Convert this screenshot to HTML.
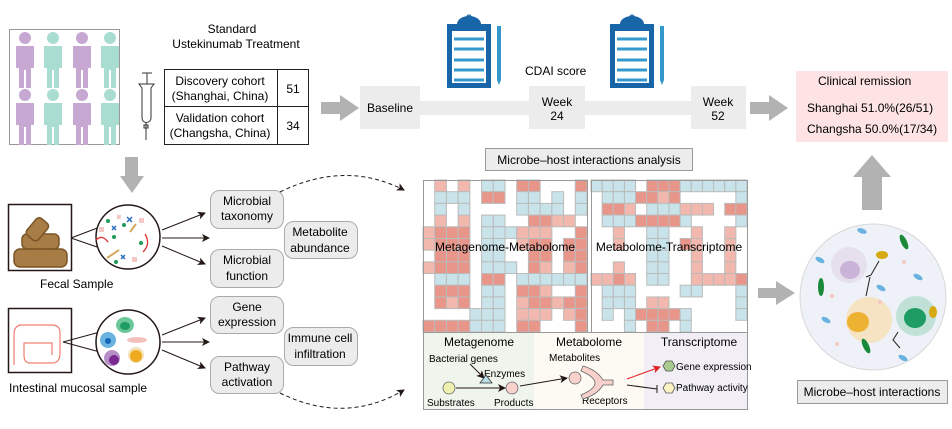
<!DOCTYPE html>
<html><head><meta charset="utf-8"><style>
body{margin:0;background:#fff;}
svg{display:block;font-family:"Liberation Sans",Arial,sans-serif;}
</style></head><body>
<svg id="s" width="952" height="429" viewBox="0 0 952 429" xmlns="http://www.w3.org/2000/svg">
<defs>
<marker id="ah" markerWidth="8" markerHeight="8" refX="7" refY="4" orient="auto" markerUnits="userSpaceOnUse"><path d="M0,0 L8,4 L0,8 L2,4z" fill="#231815"/></marker>
<marker id="ahr" markerWidth="8" markerHeight="8" refX="7" refY="4" orient="auto" markerUnits="userSpaceOnUse"><path d="M0,0 L8,4 L0,8 L2,4z" fill="#e02020"/></marker>
<g id="pp"><circle cx="0" cy="0" r="6"/><path d="M-9,8 h18 v22 h-3 v20 h-5 v-18 h-2 v18 h-5 v-20 h-3z"/></g>
<g id="clip"><rect x="0" y="8" width="44" height="64" fill="#1865a8"/><rect x="5" y="15" width="34" height="52" fill="#fff"/><path d="M10,8 a12,8 0 0 1 24,0z" fill="#1865a8"/><circle cx="22" cy="1" r="2" fill="none" stroke="#1865a8" stroke-width="1.3"/><g stroke="#3399cc" stroke-width="3"><line x1="7" y1="23" x2="37" y2="23"/><line x1="7" y1="33" x2="37" y2="33"/><line x1="7" y1="44" x2="37" y2="44"/><line x1="7" y1="54" x2="37" y2="54"/><line x1="7" y1="64" x2="37" y2="64"/></g><path d="M50,10 h4 v54 l-2,5 l-2,-5z" fill="#3399cc"/></g>
</defs>

<!-- people -->
<rect x="9.5" y="29.5" width="110" height="115" fill="#fff" stroke="#999"/>
<g fill="#c6a8d2"><use href="#pp" x="25" y="38"/><use href="#pp" x="82" y="38"/><use href="#pp" x="25" y="95"/><use href="#pp" x="82" y="95"/></g>
<g fill="#a9ddd1"><use href="#pp" x="53" y="38"/><use href="#pp" x="110" y="38"/><use href="#pp" x="53" y="95"/><use href="#pp" x="110" y="95"/></g>
<text x="232" y="33" font-size="12" text-anchor="middle">Standard</text>
<text x="236" y="48" font-size="12" text-anchor="middle">Ustekinumab Treatment</text>
<!-- syringe -->
<g stroke="#333" fill="none" stroke-width="1"><line x1="142" y1="73" x2="152" y2="73"/><line x1="147" y1="73" x2="147" y2="84"/><path d="M139,84 h15 l-3,4 v30 a4,4 0 0 1 -9,0 v-30z"/><line x1="146" y1="123" x2="146" y2="140"/><rect x="144" y="125" width="4" height="3"/></g>
<!-- table -->
<rect x="164.5" y="69.5" width="144" height="75" fill="#fff" stroke="#222"/>
<line x1="277.5" y1="69" x2="277.5" y2="145" stroke="#222"/><line x1="164" y1="106.5" x2="309" y2="106.5" stroke="#222"/>
<g font-size="12" text-anchor="middle"><text x="220" y="85">Discovery cohort</text><text x="220" y="100">(Shanghai, China)</text><text x="220" y="122">Validation cohort</text><text x="220" y="137">(Changsha, China)</text><text x="293" y="93">51</text><text x="293" y="130">34</text></g>
<!-- timeline -->
<path d="M321,102 h19 v-7 l19,13 l-19,13 v-7 h-19z" fill="#b2b2b2"/>
<rect x="418" y="101" width="275" height="14" fill="#ececec"/>
<rect x="360" y="86" width="60" height="43" fill="#ececec"/>
<rect x="529" y="86" width="56" height="43" fill="#ececec"/>
<rect x="691" y="86" width="55" height="43" fill="#ececec"/>
<g font-size="12"><text x="367" y="112">Baseline</text><text x="557" y="106" text-anchor="middle">Week</text><text x="557" y="120" text-anchor="middle">24</text><text x="718" y="106" text-anchor="middle">Week</text><text x="718" y="120" text-anchor="middle">52</text><text x="525" y="75">CDAI score</text></g>
<use href="#clip" x="447" y="16"/><use href="#clip" x="610" y="16"/>
<path d="M750,102 h19 v-7 l19,13 l-19,13 v-7 h-19z" fill="#b2b2b2"/>
<!-- remission -->
<rect x="796" y="71" width="152" height="71" fill="#fde3e3"/>
<g font-size="12"><text x="818" y="85">Clinical remission</text><text x="807" y="112">Shanghai 51.0%(26/51)</text><text x="807" y="133">Changsha 50.0%(17/34)</text></g>
<path d="M862,210 v-33 h-9 l19,-22 l19,22 h-9 v33z" fill="#b2b2b2"/>
<!-- cell circle -->
<circle cx="873" cy="297" r="73" fill="#eef1f7" stroke="#d8d8d8"/>
<circle cx="849" cy="265" r="18" fill="#e6e0ee"/><ellipse cx="850" cy="270" rx="10" ry="9" fill="#c9b3d8"/>
<circle cx="869" cy="320" r="23" fill="#f5e3c2"/><ellipse cx="858" cy="322" rx="11" ry="10" fill="#eeb232"/>
<circle cx="916" cy="316" r="20" fill="#bfe1d6"/><ellipse cx="915" cy="318" rx="11" ry="10" fill="#1f9c64"/>
<g fill="#6ab3e0"><ellipse cx="862" cy="231" rx="5" ry="2.5" transform="rotate(20 862 231)"/><ellipse cx="820" cy="260" rx="5" ry="2.5" transform="rotate(30 820 260)"/><ellipse cx="918" cy="277" rx="5" ry="2.5" transform="rotate(30 918 277)"/><ellipse cx="881" cy="288" rx="5" ry="2.5" transform="rotate(30 881 288)"/><ellipse cx="826" cy="320" rx="5" ry="2.5" transform="rotate(30 826 320)"/><ellipse cx="903" cy="358" rx="5" ry="2.5" transform="rotate(30 903 358)"/></g>
<g fill="#1a8a3a"><ellipse cx="904" cy="242" rx="3" ry="8" transform="rotate(-25 904 242)"/><ellipse cx="821" cy="287" rx="3" ry="9"/><ellipse cx="866" cy="346" rx="3" ry="8" transform="rotate(-25 866 346)"/></g>
<ellipse cx="882" cy="255" rx="6" ry="4" fill="#d4aa10"/><ellipse cx="933" cy="312" rx="4" ry="6" fill="#d4aa10"/>
<g stroke="#222" fill="none"><path d="M879,261 L871,275 L866,277"/><path d="M870,277 L866,296"/><path d="M898,332 L893,340 L900,348"/></g>
<g fill="#f6c8c0"><circle cx="904" cy="262" r="2"/><circle cx="832" cy="296" r="2"/><circle cx="880" cy="302" r="2"/><circle cx="837" cy="344" r="2"/></g>
<rect x="797.5" y="380.5" width="150" height="23" fill="#ececec" stroke="#999"/>
<text x="872" y="396" font-size="12" text-anchor="middle">Microbe–host interactions</text>
<path d="M758,288 h18 v-7 l19,12 l-19,12 v-7 h-18z" fill="#b2b2b2"/>

<!-- left bottom -->
<path d="M125,157 h13 v19 h6 l-12,17 l-12,-17 h5z" fill="#b2b2b2"/>
<rect x="8.5" y="204.5" width="63" height="66" fill="#fff" stroke="#231815" stroke-width="1.5"/>
<g fill="#a87c45" stroke="#7a5526" stroke-width="1.5"><rect x="14" y="249" width="53" height="18" rx="6"/><rect x="22" y="234" width="37" height="15" rx="5"/><rect x="30" y="218" width="15" height="22" rx="4" transform="rotate(40 37 229)"/></g>
<path d="M71,238 L100,227 M71,238 L100,248" stroke="#231815" fill="none"/>
<circle cx="128" cy="237" r="32" fill="#fff" stroke="#231815" stroke-width="1.5"/>
<g fill="#1e9a5a"><circle cx="108" cy="221" r="2"/><circle cx="124" cy="225" r="2"/><circle cx="114" cy="237" r="2"/><circle cx="141" cy="243" r="2"/><circle cx="116" cy="262" r="2"/></g>
<g fill="#f4c8c4"><rect x="139" y="218" width="5" height="5"/><rect x="99" y="227" width="5" height="5"/><rect x="132" y="257" width="5" height="5"/><rect x="117" y="215" width="4" height="4"/></g>
<g stroke="#2a6fc0" stroke-width="1.5"><path d="M127,217 l5,5 m0,-5 l-5,5"/><path d="M112,226 l4,4 m0,-4 l-4,4"/><path d="M121,255 l4,4 m0,-4 l-4,4"/></g>
<path d="M96,240 q6,-6 12,2" stroke="#e03030" fill="none" stroke-width="1.3"/><path d="M145,234 q6,10 -2,18" stroke="#e03030" fill="none" stroke-width="1.3"/>
<path d="M107,258 l12,-8 M130,232 l6,-8" stroke="#d4a860" stroke-width="2" fill="none"/>
<text x="40" y="288" font-size="12">Fecal Sample</text>
<rect x="8.5" y="308.5" width="63" height="64" fill="#fff" stroke="#231815" stroke-width="1.5"/>
<path d="M14,365 v-30 q0,-10 8,-10 h30 q8,0 8,8 v20 q0,10 -8,10 h-22 q-6,0 -6,-8 v-12 h28 v12" stroke="#f08070" fill="none" stroke-width="1.2"/>
<path d="M63,342 L100,332 M63,342 L100,352" stroke="#231815" fill="none"/>
<circle cx="128" cy="342" r="32" fill="#fff" stroke="#231815" stroke-width="1.5"/>
<ellipse cx="125" cy="325" rx="9" ry="8" fill="#6cc89a"/><ellipse cx="125" cy="326" rx="5" ry="4" fill="#1f9c64"/>
<circle cx="108" cy="340" r="8" fill="#6ab3e0"/><circle cx="108" cy="341" r="3" fill="#1565b8"/>
<ellipse cx="137" cy="340" rx="10" ry="3" fill="#f4c0bc"/>
<circle cx="112" cy="358" r="8" fill="#b78fc8"/><circle cx="114" cy="360" r="5" fill="#7a2a90"/>
<circle cx="136" cy="355" r="8" fill="#f5e0b8"/><circle cx="136" cy="356" r="6" fill="#eeaa20"/>
<text x="9" y="392" font-size="12">Intestinal mucosal sample</text>
<g stroke="#231815" fill="none" marker-end="url(#ah)"><line x1="162" y1="230" x2="205" y2="213"/><line x1="162" y1="238" x2="209" y2="238"/><line x1="162" y1="246" x2="205" y2="264"/><line x1="162" y1="335" x2="205" y2="318"/><line x1="162" y1="342" x2="209" y2="342"/><line x1="162" y1="350" x2="205" y2="368"/></g>
<g fill="#ececec" stroke="#aaa"><rect x="210.5" y="190.5" width="73" height="38" rx="9"/><rect x="210.5" y="249.5" width="73" height="38" rx="9"/><rect x="284.5" y="221.5" width="73" height="37" rx="9"/><rect x="210.5" y="296.5" width="73" height="37" rx="9"/><rect x="210.5" y="356.5" width="73" height="37" rx="9"/><rect x="284.5" y="327.5" width="73" height="38" rx="9"/></g>
<g font-size="12" text-anchor="middle"><text x="247" y="205">Microbial</text><text x="247" y="220">taxonomy</text><text x="247" y="264">Microbial</text><text x="247" y="280">function</text><text x="320" y="236">Metabolite</text><text x="320" y="252">abundance</text><text x="247" y="311">Gene</text><text x="247" y="326">expression</text><text x="247" y="371">Pathway</text><text x="247" y="386">activation</text><text x="320" y="342">Immune cell</text><text x="320" y="358">infiltration</text></g>
<g stroke="#231815" fill="none" stroke-dasharray="4,3" marker-end="url(#ah)"><path d="M280,192 Q345,160 404,190"/><path d="M280,393 Q345,425 404,390"/></g>

<!-- heatmap -->
<rect x="485.5" y="148.5" width="207" height="22" fill="#ececec" stroke="#999"/>
<text x="589" y="164" font-size="12" text-anchor="middle">Microbe–host interactions analysis</text>
<g id="hm"></g>
<rect x="423.5" y="180.5" width="164" height="152" fill="none" stroke="#999"/>
<rect x="591.5" y="180.5" width="156" height="152" fill="none" stroke="#999"/>
<text x="505" y="251" font-size="12" text-anchor="middle">Metagenome-Metabolome</text>
<text x="669" y="251" font-size="12" text-anchor="middle">Metabolome-Transcriptome</text>
<rect x="423" y="333" width="111" height="76" fill="#eff5ec"/>
<rect x="534" y="333" width="110" height="76" fill="#fdf9f3"/>
<rect x="644" y="333" width="103" height="76" fill="#f1eef6"/>
<rect x="423.5" y="332.5" width="324" height="77" fill="none" stroke="#999"/>
<g font-size="12" text-anchor="middle"><text x="479" y="346">Metagenome</text><text x="589" y="346">Metabolome</text><text x="699" y="346">Transcriptome</text></g>
<g font-size="10"><text x="429" y="362">Bacterial genes</text><text x="484" y="377">Enzymes</text><text x="427" y="406">Substrates</text><text x="494" y="406">Products</text><text x="549" y="361">Metabolites</text><text x="582" y="404">Receptors</text><text x="676" y="370">Gene expression</text><text x="676" y="391">Pathway activity</text></g>
<path d="M470,364 L484,378" stroke="#231815" marker-end="url(#ah)"/>
<path d="M480,383 l6,-8 l6,8z" fill="#b9dde6" stroke="#333" stroke-width=".8"/>
<circle cx="449" cy="388" r="6" fill="#eef0b0" stroke="#666" stroke-width=".8"/>
<circle cx="512" cy="388" r="6" fill="#f8d0cc" stroke="#666" stroke-width=".8"/>
<circle cx="575" cy="378" r="6" fill="#f8d0cc" stroke="#666" stroke-width=".8"/>
<path d="M456,388 L505,388" stroke="#231815" marker-end="url(#ah)"/>
<path d="M520,386 L567,378" stroke="#231815" marker-end="url(#ah)"/>
<path d="M583,366 q14,4 20,14 h10 v5 h-10 q-6,10 -20,14 l-2,-4 q14,-6 14,-12 q0,-6 -14,-12z" fill="#f8d0cc" stroke="#666" stroke-width=".8"/>
<path d="M627,379 L660,367" stroke="#e02020" marker-end="url(#ahr)"/>
<path d="M627,385 L657,389 M657,385 l0,8" stroke="#231815" fill="none"/>
<path d="M663,366 l3,-5 h6 l3,5 l-3,5 h-6z" fill="#a8cc90" stroke="#555" stroke-width=".8"/>
<path d="M663,388 l3,-5 h6 l3,5 l-3,5 h-6z" fill="#fbf2c4" stroke="#555" stroke-width=".8"/>
</svg>
<script>
var L=["..r.r.bb.RR...R",".bbb.RR.bb.b.b",".b.b....bbbb.b",".r.r.bb..RRrr.","rRRR.bbbrrr..R","rRRR.bb.rRR.RR",".RRR.bb..RR.RR","rRRR.bbb.Rr.rR",".bbb.RR.bbbbbb",".RRR.bb.RRr..R",".RrR.bb.rRRrRR","....bbb.rrr.rR","RRRRbbb.RR...R"];
L[0]=".r.r.bb.RR...R";
var R=["bbbb.RRRbbbbbb",".bbbRRrR.....b",".RRr.bbbrrr.RR",".bbbRRRRb....b","..r..bb..r..r.","..r..bb.Rr..r.",".....bb..r..r.","..r..bb..r..r.","rrRr.bb..rrrrR",".bbb....bb...b",".bbb.rr......b",".b.bRRRRb....b","...b.RR.b....."];
var col={r:"#f2b8ae",R:"#e8958a",b:"#c8e4ea"};
var g=document.getElementById("hm"),h="";
function draw(m,x0,w){var cw=w/14,ch=152/13;for(var i=0;i<13;i++)for(var j=0;j<14;j++){var c=m[i][j];if(c&&c!="."){h+='<rect x="'+(x0+j*cw)+'" y="'+(180+i*ch)+'" width="'+cw+'" height="'+ch+'" fill="'+col[c]+'" stroke="#bbb" stroke-width="1"/>';}}}
draw(L,423,164);draw(R,591,156);
g.innerHTML=h;
</script>
</body></html>
